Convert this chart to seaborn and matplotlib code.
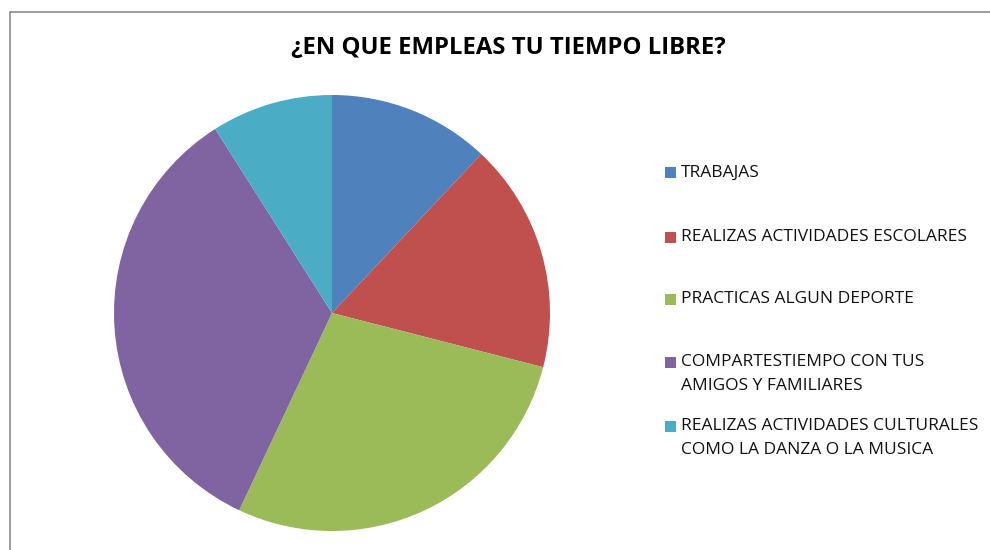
import matplotlib
matplotlib.use("Agg")
import matplotlib.pyplot as plt
import seaborn as sns
from matplotlib.patches import Rectangle
from matplotlib.lines import Line2D

sns.set_theme(style="white")
plt.rcParams['font.family'] = ['Open Sans', 'DejaVu Sans']

categories = [
    "TRABAJAS",
    "REALIZAS ACTIVIDADES ESCOLARES",
    "PRACTICAS ALGUN DEPORTE",
    "COMPARTESTIEMPO CON TUS\nAMIGOS Y FAMILIARES",
    "REALIZAS ACTIVIDADES CULTURALES\nCOMO LA DANZA O LA MUSICA",
]
values = [12, 17, 28, 34, 9]
colors = ["#4F81BD", "#C0504D", "#9BBB59", "#8064A2", "#4BACC6"]
title = "¿EN QUE EMPLEAS TU TIEMPO LIBRE?"

W, H = 990, 550
fig = plt.figure(figsize=(W / 100, H / 100), dpi=100)

# frame lines (left and top)
fig.add_artist(Line2D([9.5 / W, 9.5 / W], [0, 1 - 11.5 / H], transform=fig.transFigure,
                      color="#8c8c8c", lw=1.2))
fig.add_artist(Line2D([9.5 / W, 1], [1 - 11.5 / H, 1 - 11.5 / H], transform=fig.transFigure,
                      color="#8c8c8c", lw=1.2))

cx, cy, r = 332, 313, 218
ax = fig.add_axes([(cx - r) / W, (H - cy - r) / H, 2 * r / W, 2 * r / H])
ax.pie(values, colors=colors, startangle=90, counterclock=False,
       wedgeprops=dict(linewidth=0), radius=1)
ax.set_xlim(-1, 1)
ax.set_ylim(-1, 1)
ax.set_aspect("equal")
ax.axis("off")

fig.text(508 / W, 1 - 47.5 / H, title, ha="center", va="center",
         fontsize=17.2, fontweight="bold", color="black")

# legend
rows = [173, 237, 299, 362, 426]
line_h = 24.5
for lab, col, y in zip(categories, colors, rows):
    fig.add_artist(Rectangle(((665) / W, 1 - (y + 5.5) / H), 11 / W, 11 / H,
                             transform=fig.transFigure, facecolor=col, edgecolor="none"))
    for i, part in enumerate(lab.split("\n")):
        fig.text(681 / W, 1 - (y + i * line_h) / H, part, ha="left", va="center",
                 fontsize=12.5, color="#111111")

fig.savefig("out.png", dpi=100)
